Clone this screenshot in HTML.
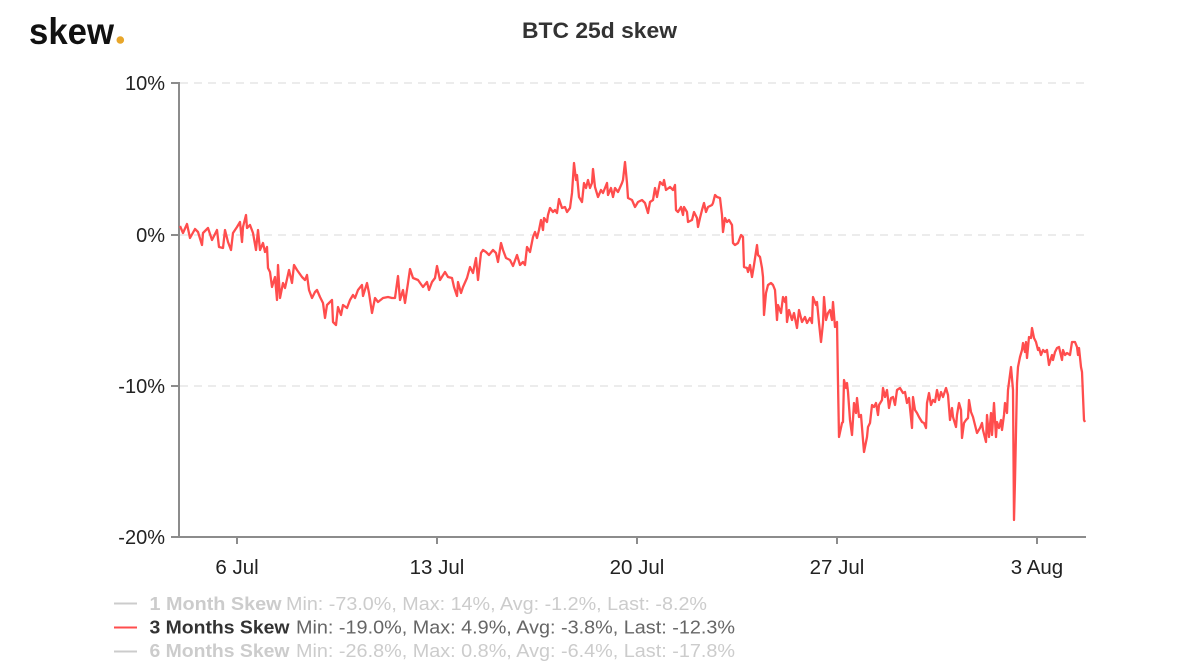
<!DOCTYPE html>
<html>
<head>
<meta charset="utf-8">
<style>
  html,body{margin:0;padding:0;background:#fff;}
  svg{display:block;}
  text{font-family:"Liberation Sans", sans-serif;}
</style>
</head>
<body>
<svg width="1200" height="670" viewBox="0 0 1200 670" xmlns="http://www.w3.org/2000/svg">
  <rect width="1200" height="670" fill="#fff"/>
  <!-- logo -->
  <text x="29" y="44" font-size="37" font-weight="bold" fill="#111" textLength="85" lengthAdjust="spacingAndGlyphs">skew</text>
  <circle cx="120.3" cy="40" r="3.8" fill="#e8a62a"/>
  <!-- title -->
  <text x="522" y="38" font-size="22" font-weight="bold" fill="#333" textLength="155" lengthAdjust="spacingAndGlyphs">BTC 25d skew</text>

  <!-- gridlines -->
  <g stroke="#e6e6e6" stroke-width="1.5" stroke-dasharray="8,6">
    <line x1="180" y1="83" x2="1085" y2="83"/>
    <line x1="180" y1="235" x2="1085" y2="235"/>
    <line x1="180" y1="386" x2="1085" y2="386"/>
  </g>

  <!-- axes -->
  <g stroke="#8c8c8c" stroke-width="2" fill="none">
    <line x1="179" y1="82" x2="179" y2="538"/>
    <line x1="178" y1="537" x2="1086" y2="537"/>
    <line x1="171" y1="83" x2="179" y2="83"/>
    <line x1="171" y1="235" x2="179" y2="235"/>
    <line x1="171" y1="386" x2="179" y2="386"/>
    <line x1="171" y1="537" x2="179" y2="537"/>
    <line x1="237" y1="537" x2="237" y2="544"/>
    <line x1="437" y1="537" x2="437" y2="544"/>
    <line x1="637" y1="537" x2="637" y2="544"/>
    <line x1="837" y1="537" x2="837" y2="544"/>
    <line x1="1037" y1="537" x2="1037" y2="544"/>
  </g>

  <!-- y labels -->
  <g font-size="20" fill="#222" text-anchor="end">
    <text x="165" y="90">10%</text>
    <text x="165" y="242">0%</text>
    <text x="165" y="393">-10%</text>
    <text x="165" y="544">-20%</text>
  </g>
  <!-- x labels -->
  <g font-size="20.5" fill="#222" text-anchor="middle">
    <text x="237" y="574">6 Jul</text>
    <text x="437" y="574">13 Jul</text>
    <text x="637" y="574">20 Jul</text>
    <text x="837" y="574">27 Jul</text>
    <text x="1037" y="574">3 Aug</text>
  </g>

  <!-- series -->
  <polyline fill="none" stroke="#ff4d4d" stroke-width="2.3" stroke-linejoin="round" points="180,226 183,233 187,224 190,238 195,229 198,232 202,245 203,233 208,228 212,240 217,230 219,247 223,248 225,230 228,242 231,250 233,233 237,227 240,222 242,242 243,227 246,215 247,228 250,225 253,233 256,250 258,230 260,250 263,243 265,252 267,247 268,268 270,272 272,287 275,277 277,300 278,265 280,298 283,283 285,288 289,270 292,283 294,265 297,270 302,277 305,280 307,275 309,290 312,298 315,292 317,290 320,297 323,303 325,318 327,305 332,300 333,322 336,325 338,307 341,315 343,305 347,308 350,300 353,295 355,298 358,290 362,285 363,296 367,283 369,293 372,313 375,298 378,302 383,298 388,297 392,298 395,298 398,276 400,300 403,290 405,303 408,283 410,269 413,278 418,280 423,287 427,282 429,290 432,282 435,278 437,266 440,280 445,272 448,277 452,278 454,287 457,296 458,282 461,293 463,287 467,278 470,267 473,273 476,258 478,280 481,253 483,250 486,252 489,255 493,250 496,253 498,262 501,243 503,250 506,258 510,260 513,266 517,255 520,265 523,262 525,265 527,247 530,252 533,237 535,232 537,238 539,230 541,220 543,230 544,218 547,222 548,215 550,208 553,212 555,210 557,213 559,199 562,208 565,207 567,212 570,208 572,193 574,163 576,180 577,175 579,197 582,202 584,183 586,188 588,180 590,188 592,183 593,169 595,187 598,197 601,190 603,193 607,183 608,195 611,188 613,197 615,188 618,192 622,183 623,180 625,162 627,183 628,198 632,200 635,207 638,202 642,200 645,203 648,213 650,202 653,200 655,188 657,197 660,182 663,185 664,180 666,190 670,187 673,190 675,185 676,210 678,212 681,207 683,215 684,207 687,212 688,222 692,220 694,212 697,218 698,227 700,218 702,210 704,203 706,212 708,207 712,205 713,203 715,195 717,197 720,198 722,215 723,232 725,218 727,222 729,220 732,225 733,243 735,245 738,243 741,235 743,237 744,267 747,268 748,272 750,265 752,277 754,265 757,245 758,255 760,257 762,268 763,277 764,315 766,293 768,285 771,283 773,285 775,290 777,320 778,305 781,313 783,297 785,302 786,297 787,322 789,310 792,320 794,313 797,328 799,310 802,322 805,317 807,323 810,318 812,323 813,297 816,305 817,302 819,323 821,342 823,323 824,297 826,320 828,313 830,310 832,320 833,302 835,327 837,322 838,383 839,437 842,423 843,422 844,380 846,388 847,383 848,392 850,420 852,435 854,403 856,413 857,398 859,417 861,415 863,440 864,452 867,437 868,427 870,423 872,405 874,407 876,403 878,415 879,405 882,400 883,388 885,397 887,390 889,408 891,398 893,397 895,405 897,390 900,388 903,393 905,392 907,403 909,398 912,428 913,397 915,410 917,413 919,417 922,422 924,423 926,428 927,403 929,393 931,405 933,400 935,402 937,390 939,400 941,392 943,397 946,388 948,395 950,420 952,408 953,417 956,427 957,415 959,403 961,410 962,438 964,423 966,420 968,418 969,400 971,412 973,417 975,425 977,433 980,428 982,423 983,430 986,442 987,415 989,437 991,413 992,435 994,403 996,437 997,422 999,428 1001,420 1002,430 1004,415 1005,403 1007,413 1008,390 1011,367 1013,390 1014,520 1015,480 1017,383 1018,367 1020,357 1022,350 1023,343 1025,352 1026,342 1027,358 1029,337 1031,338 1032,328 1034,338 1036,342 1038,350 1039,348 1041,355 1043,350 1045,352 1047,350 1049,365 1052,355 1053,360 1055,352 1057,348 1059,347 1062,360 1063,350 1065,355 1067,353 1070,355 1072,342 1075,342 1077,347 1078,355 1079,348 1081,367 1082,372 1084,420 1085,422"/>

  <!-- legend -->
  <g stroke-width="2">
    <line x1="114" y1="603.5" x2="137" y2="603.5" stroke="#cccccc"/>
    <line x1="114" y1="627.5" x2="137" y2="627.5" stroke="#ff4d4d"/>
    <line x1="114" y1="651.5" x2="137" y2="651.5" stroke="#cccccc"/>
  </g>
  <g font-size="18">
    <text x="149.5" y="610" font-weight="bold" fill="#cccccc" textLength="132" lengthAdjust="spacingAndGlyphs">1 Month Skew</text>
    <text x="286" y="610" fill="#cccccc" textLength="421" lengthAdjust="spacingAndGlyphs">Min: -73.0%, Max: 14%, Avg: -1.2%, Last: -8.2%</text>
    <text x="149.5" y="633.5" font-weight="bold" fill="#333333" textLength="140" lengthAdjust="spacingAndGlyphs">3 Months Skew</text>
    <text x="296" y="633.5" fill="#666666" textLength="439" lengthAdjust="spacingAndGlyphs">Min: -19.0%, Max: 4.9%, Avg: -3.8%, Last: -12.3%</text>
    <text x="149.5" y="657" font-weight="bold" fill="#cccccc" textLength="140" lengthAdjust="spacingAndGlyphs">6 Months Skew</text>
    <text x="296" y="657" fill="#cccccc" textLength="439" lengthAdjust="spacingAndGlyphs">Min: -26.8%, Max: 0.8%, Avg: -6.4%, Last: -17.8%</text>
  </g>
</svg>
</body>
</html>
